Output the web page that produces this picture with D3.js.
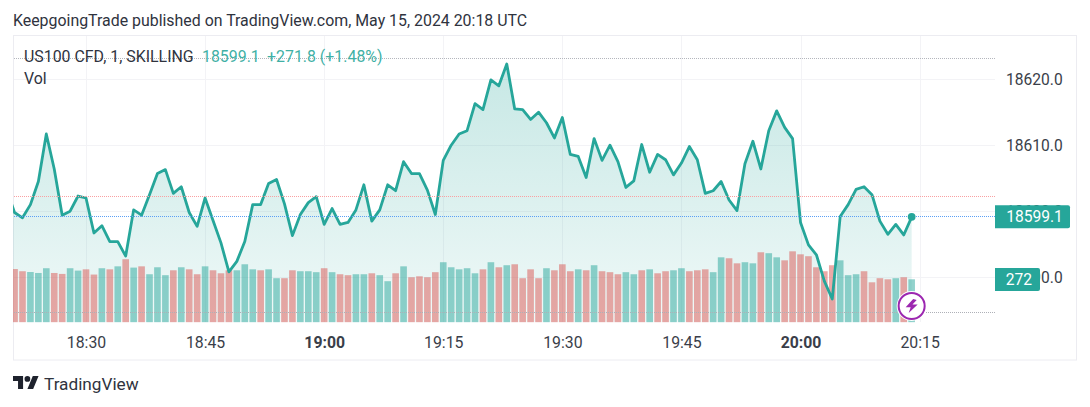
<!DOCTYPE html>
<html lang="en">
	<head>
		<meta charset="utf-8">
		<title>US100 CFD</title>
		<script type="text/javascript" src="https://d3js.org/d3.v7.min.js"></script>
		<style type="text/css">
			body { margin: 0; background: #fff; }
			text { font-family: Roboto, sans-serif; }
		</style>
	</head>
	<body>
		<script type="text/javascript">

			//Data. One close per minute, first one is 18:20
			var startMinute = 18 * 60 + 20;
			var closes = [
				18603.3, 18599.8, 18599.0, 18601.0, 18604.5, 18611.7, 18606.4, 18599.4, 18600.0, 18602.3,
				18602.0, 18596.7, 18597.8, 18595.4, 18595.4, 18593.2, 18600.2, 18599.4, 18602.5, 18605.7,
				18606.3, 18602.7, 18603.7, 18599.8, 18597.7, 18602.0, 18598.6, 18595.2, 18590.8, 18592.4,
				18595.4, 18601.0, 18601.0, 18604.2, 18604.8, 18601.1, 18596.3, 18599.5, 18601.3, 18602.2,
				18598.0, 18600.4, 18598.0, 18598.3, 18600.2, 18604.0, 18598.5, 18600.2, 18604.0, 18603.1,
				18607.5, 18605.7, 18605.7, 18603.2, 18599.5, 18607.7, 18610.0, 18611.7, 18612.2, 18616.3,
				18615.4, 18619.9, 18619.0, 18622.3, 18615.5, 18615.4, 18613.9, 18615.0, 18613.4, 18611.1,
				18614.2, 18608.6, 18608.3, 18605.1, 18611.0, 18607.7, 18610.0, 18607.5, 18603.6, 18604.6,
				18610.1, 18605.9, 18608.6, 18607.8, 18605.5, 18607.3, 18609.8, 18607.8, 18602.7, 18603.1,
				18604.5, 18601.7, 18600.1, 18607.2, 18610.6, 18606.4, 18612.2, 18615.2, 18612.7, 18611.0,
				18598.3, 18594.9, 18593.4, 18589.4, 18586.7, 18599.2, 18601.0, 18603.3, 18603.7, 18602.5,
				18598.5, 18596.5, 18598.0, 18596.4, 18599.1
			];

			//Volume per minute, first bar is 18:21
			var volumeStart = 18 * 60 + 21;
			var volumes = [
				337, 323, 318, 312, 342, 312, 306, 342, 327, 335,
				302, 342, 335, 354, 399, 346, 354, 304, 348, 298,
				329, 348, 335, 304, 354, 329, 310, 329, 329, 367,
				335, 329, 335, 279, 279, 329, 323, 323, 317, 342,
				317, 304, 298, 304, 304, 310, 298, 260, 310, 354,
				285, 291, 285, 317, 380, 348, 335, 342, 310, 335,
				380, 348, 361, 367, 279, 335, 279, 342, 329, 367,
				323, 335, 329, 361, 323, 317, 304, 317, 304, 329,
				335, 310, 323, 329, 342, 323, 329, 335, 317, 411,
				405, 373, 380, 373, 443, 437, 411, 392, 449, 430,
				418, 348, 323, 361, 392, 298, 304, 323, 253, 279,
				272, 279, 285, 272
			];
			//g = green bar, d = red bar
			var volumeDirs = [
				"d","d","g","g","g","d","d","g","g","d",
				"d","g","d","g","d","g","d","g","g","g",
				"d","g","d","d","g","d","d","d","g","g",
				"g","d","g","g","d","d","g","g","g","d",
				"g","d","d","g","g","d","g","g","d","g",
				"d","d","d","d","g","g","g","g","g","d",
				"g","d","g","d","d","d","d","g","d","d",
				"d","g","d","g","d","d","d","g","g","d",
				"g","d","d","g","g","d","d","d","g","g",
				"d","d","g","g","d","g","g","d","d","d",
				"d","d","d","d","g","g","g","d","d","d",
				"d","g","d","g"
			];

			var timeTicks = [1110, 1125, 1140, 1155, 1170, 1185, 1200, 1215];
			var timeLabels = ["18:30", "18:45", "19:00", "19:15", "19:30", "19:45", "20:00", "20:15"];
			var boldTimes = ["19:00", "20:00"];
			var priceTicks = [18620, 18610, 18600, 18590];
			var lastPrice = 18599.1;
			var prevClose = 18602.2;
			var dayHigh = 18623.1;
			var lastVolume = 272;
			var volumeRef = 59;

			var w = 1090;
			var h = 407;
			var teal = "#26a69a";

			var svg = d3.select("body")
						.append("svg")
						.attr("width", w)
						.attr("height", h)
						.style("display", "block");

			var x = d3.scaleLinear().domain([1110, 1215]).range([86, 919.6]);
			var y = d3.scaleLinear().domain([18590, 18620]).range([277.2, 79.2]);
			var yVol = d3.scaleLinear().domain([0, lastVolume]).range([322.3, 279.3]);

			var lineData = closes.map(function(d, i) { return { t: startMinute + i, v: d }; });
			var volData = volumes.map(function(d, i) { return { t: volumeStart + i, v: d, dir: volumeDirs[i] }; });

			var defs = svg.append("defs");
			defs.append("clipPath").attr("id", "plot")
				.append("rect").attr("x", 13).attr("y", 36).attr("width", 982).attr("height", 286.5);

			var grad = defs.append("linearGradient").attr("id", "fade")
				.attr("gradientUnits", "userSpaceOnUse")
				.attr("x1", 0).attr("x2", 0).attr("y1", y(d3.max(closes))).attr("y2", yVol(0));
			grad.append("stop").attr("offset", 0).attr("stop-color", teal).attr("stop-opacity", 0.26);
			grad.append("stop").attr("offset", 1).attr("stop-color", teal).attr("stop-opacity", 0.07);

			//Outer frame
			svg.append("rect")
				.attr("x", 13.5).attr("y", 35.5).attr("width", 1063).attr("height", 324.5)
				.attr("fill", "none").attr("stroke", "#ececf1");

			//Grid
			var grid = svg.append("g").attr("stroke", "#f3f3f6").attr("shape-rendering", "crispEdges");
			grid.selectAll(".h").data(priceTicks).enter().append("line")
				.attr("x1", 14).attr("x2", 995)
				.attr("y1", function(d) { return Math.round(y(d)); })
				.attr("y2", function(d) { return Math.round(y(d)); });
			grid.selectAll(".v").data(timeTicks).enter().append("line")
				.attr("y1", 36).attr("y2", 322)
				.attr("x1", function(d) { return Math.round(x(d)); })
				.attr("x2", function(d) { return Math.round(x(d)); });

			var plot = svg.append("g").attr("clip-path", "url(#plot)");

			//Area under the price line
			var area = d3.area()
				.x(function(d) { return x(d.t); })
				.y0(yVol(0))
				.y1(function(d) { return y(d.v); });
			plot.append("path").datum(lineData).attr("d", area).attr("fill", "url(#fade)");

			//Volume bars
			plot.selectAll(".vol").data(volData).enter().append("rect")
				.attr("class", "vol")
				.attr("x", function(d) { return x(d.t) - 3.3; })
				.attr("width", 6.6)
				.attr("y", function(d) { return yVol(d.v); })
				.attr("height", function(d) { return yVol(0) - yVol(d.v); })
				.attr("fill", function(d) { return d.dir == "g" ? teal : "#d9534f"; })
				.attr("fill-opacity", 0.5);

			//Dotted level lines
			var levels = [
				{ y: y(dayHigh), c: "#b4b6bd" },
				{ y: y(prevClose), c: "#f9a0a2" },
				{ y: y(lastPrice), c: "#5b9ff5" },
				{ y: yVol(volumeRef), c: "#aeb0b7" }
			];
			svg.selectAll(".level").data(levels).enter().append("line")
				.attr("x1", 14).attr("x2", 995)
				.attr("y1", function(d) { return Math.round(d.y) - 0.5; })
				.attr("y2", function(d) { return Math.round(d.y) - 0.5; })
				.attr("stroke", function(d) { return d.c; })
				.attr("stroke-dasharray", "1 1");

			//Price line
			var line = d3.line()
				.x(function(d) { return x(d.t); })
				.y(function(d) { return y(d.v); });
			plot.append("path").datum(lineData).attr("d", line)
				.attr("fill", "none").attr("stroke", teal).attr("stroke-width", 2.8)
				.attr("stroke-linejoin", "round");

			var lastT = lineData[lineData.length - 1].t;
			svg.append("circle").attr("cx", x(lastT)).attr("cy", y(lastPrice) - 0.3).attr("r", 3.9).attr("fill", teal);

			//Axes
			var timeAxis = d3.axisBottom(x)
				.tickValues(timeTicks)
				.tickSize(0)
				.tickPadding(0)
				.tickFormat(function(d, i) { return timeLabels[i]; });
			var gx = svg.append("g").attr("transform", "translate(0,336.5)").call(timeAxis);
			gx.select(".domain").remove();
			gx.selectAll("text")
				.attr("fill", "#3a3e49")
				.style("font-size", "15.8px")
				.style("font-weight", function(d, i) { return boldTimes.indexOf(timeLabels[i]) >= 0 ? 700 : 400; });

			var priceAxis = d3.axisRight(y)
				.tickValues(priceTicks)
				.tickSize(0)
				.tickPadding(0)
				.tickFormat(d3.format(".1f"));
			var gy = svg.append("g").attr("transform", "translate(1006,0)").call(priceAxis);
			gy.select(".domain").remove();
			gy.selectAll("text").attr("fill", "#3a3e49").style("font-size", "15.6px");

			//Price and volume tags
			function tag(cy, width, label, cx) {
				var top = cy - 11.5;
				svg.append("path")
					.attr("d", "M995," + top + "h" + (width - 2) + "q2,0 2,2v19q0,2 -2,2h-" + (width - 2) + "z")
					.attr("fill", teal);
				svg.append("text").attr("x", cx).attr("y", cy + 5.5).attr("text-anchor", "middle")
					.attr("fill", "#fff").style("font-size", "15.6px").text(label);
			}
			tag(y(lastPrice) - 0.4, 75, d3.format(".1f")(lastPrice), 1034.5);
			tag(yVol(lastVolume) + 0.3, 45, lastVolume, 1019);

			//Lightning badge on the last bar
			var badge = svg.append("g").attr("transform", "translate(" + x(lastT) + ",306)");
			badge.append("circle").attr("r", 15).attr("fill", "#fff");
			badge.append("circle").attr("r", 13).attr("fill", "#fff").attr("stroke", "#9c27b0").attr("stroke-width", 2);
			badge.append("path").attr("d", "M1.5,-7 L-6,1.2 L-1,1.2 L-3,7 L6,-1.5 L0.8,-1.5 L5,-6 Z").attr("fill", "#9c27b0");

			//Header and legend
			svg.append("text").attr("x", 13).attr("y", 25.5).attr("fill", "#2f333e").style("font-size", "15.9px")
				.text("KeepgoingTrade published on TradingView.com, May 15, 2024 20:18 UTC");
			svg.append("text").attr("x", 24).attr("y", 61.5).attr("fill", "#2f333e").style("font-size", "15.9px")
				.text("US100 CFD, 1, SKILLING");
			svg.append("text").attr("x", 202).attr("y", 61.5).attr("fill", "#3fb0a5").style("font-size", "15.9px")
				.text(d3.format(".1f")(lastPrice));
			svg.append("text").attr("x", 267).attr("y", 61.5).attr("fill", "#3fb0a5").style("font-size", "15.9px")
				.text("+271.8 (+1.48%)");
			svg.append("text").attr("x", 24).attr("y", 84).attr("fill", "#2f333e").style("font-size", "15.9px")
				.text("Vol");

			//TradingView logo
			var logo = svg.append("g").attr("transform", "translate(13,373.2) scale(0.72)").attr("fill", "#1e222d");
			logo.append("path").attr("d", "M14 22H7V11H0V4h14v18zM28 22h-8l7.5-18h8L28 22z");
			logo.append("circle").attr("cx", 20).attr("cy", 8).attr("r", 4);
			svg.append("text").attr("x", 44).attr("y", 390).attr("fill", "#2f333e").style("font-size", "17.2px")
				.text("TradingView");

		</script>
	</body>
</html>
